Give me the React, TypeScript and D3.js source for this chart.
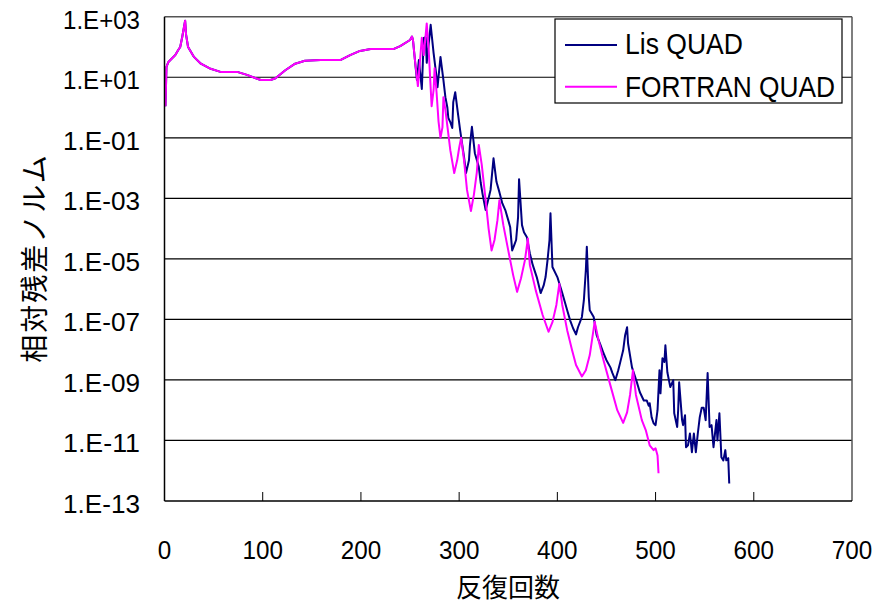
import React from "react";
import * as d3 from "d3";

const xTicks = [0, 100, 200, 300, 400, 500, 600, 700];
const yTicks = [1e3, 1e1, 1e-1, 1e-3, 1e-5, 1e-7, 1e-9, 1e-11, 1e-13];
const yTickLabels = ["1.E+03", "1.E+01", "1.E-01", "1.E-03", "1.E-05", "1.E-07", "1.E-09", "1.E-11", "1.E-13"];
const seriesNames = ["Lis QUAD", "FORTRAN QUAD"];
const xTitle = "反復回数";
const yTitle = "相対残差ノルム";

// common history (both runs identical until ~253 iterations)
const sharedIter = [1, 2, 4, 11, 14, 16, 18, 21, 22, 24, 30, 37, 47, 57, 74, 84, 93, 98, 108, 113, 123, 133, 143, 159, 179, 189, 199, 210, 233, 240, 250, 252, 253];
const sharedRes = [1.1, 22, 32, 54, 79, 100, 210, 740, 250, 100, 47, 28, 19, 15, 15, 12, 9.3, 8.1, 8.1, 9.3, 17, 28, 35, 37, 37, 54, 74, 85, 85, 107, 170, 220, 170];

const fortranIter = [255, 258, 259, 262, 264, 267, 269, 272, 274, 275, 277, 279, 281, 283, 284, 286, 291, 295, 298, 300, 302, 305, 308, 312, 315, 318, 320, 323, 327, 330, 333, 336, 339, 341, 345, 350, 355, 359, 363, 367, 370, 372, 378, 385, 391, 395, 399, 402, 405, 410, 415, 419, 425, 429, 433, 438, 442, 447, 454, 461, 467, 471, 474, 477, 480, 486, 490, 494, 498, 500, 502, 503];
const fortranRes = [37, 5.1, 12, 200, 54, 600, 79, 1.1, 3.8, 20, 3.2, 0.35, 0.10, 0.22, 2.2, 0.83, 0.039, 6.8e-3, 1.8e-2, 4.6e-2, 0.10, 1.8e-2, 1.9e-3, 3.8e-4, 1.3e-3, 7.2e-3, 5.8e-2, 1.3e-2, 8.7e-4, 1.0e-4, 1.9e-5, 4.2e-5, 1.9e-4, 8.7e-4, 1.3e-4, 1.9e-5, 2.9e-6, 8.1e-7, 2.3e-6, 9.1e-6, 4.7e-5, 6.2e-6, 9.1e-7, 1.4e-7, 3.9e-8, 8.1e-8, 3.0e-7, 1.5e-6, 3.0e-7, 4.4e-8, 9.5e-9, 3.1e-9, 1.3e-9, 2.1e-9, 6.6e-9, 8.3e-8, 2.0e-8, 4.5e-9, 6.6e-10, 1.0e-10, 3.8e-11, 8.5e-11, 3.2e-10, 2.1e-9, 3.2e-10, 4.7e-11, 2.2e-11, 6.9e-12, 4.8e-12, 5.5e-12, 3.2e-12, 8.3e-13];

const lisIter = [256, 257, 259, 262, 264, 266, 267, 271, 274, 277, 278, 281, 284, 286, 288, 289, 291, 293, 294, 296, 299, 301, 305, 307, 310, 311, 313, 316, 320, 322, 324, 327, 330, 332, 335, 338, 341, 344, 347, 350, 352, 354, 356, 358, 360, 361, 364, 366, 369, 372, 375, 379, 383, 386, 388, 390, 392, 393, 395, 400, 405, 410, 413, 416, 419, 421, 425, 427, 429, 430, 432, 433, 437, 440, 444, 447, 450, 454, 456, 459, 462, 464, 467, 469, 471, 472, 476, 481, 484, 488, 491, 493, 494, 496, 498, 500, 502, 504, 505, 507, 509, 510, 512, 515, 518, 519, 522, 523, 524, 527, 528, 530, 531, 533, 535, 537, 539, 541, 543, 545, 547, 549, 551, 553, 555, 557, 559, 562, 563, 565, 567, 569, 571, 572, 574, 575];
const lisRes = [17, 8.1, 37, 4.1, 200, 210, 30, 540, 63, 10, 4.7, 47, 8.1, 2.2, 1.0, 0.45, 0.33, 0.21, 1.5, 3.2, 0.56, 0.18, 2.3e-2, 6.8e-3, 1.8e-2, 5.8e-2, 0.23, 3.1e-2, 1.1e-2, 3.2e-3, 1.3e-3, 4.1e-4, 1.0e-3, 1.9e-3, 2.1e-2, 3.5e-3, 1.6e-3, 6.8e-4, 4.1e-4, 1.9e-4, 1.1e-4, 1.9e-5, 2.8e-5, 4.2e-5, 2.4e-4, 4.3e-3, 1.3e-4, 7.6e-5, 5.2e-5, 1.5e-5, 6.2e-6, 2.5e-6, 7.4e-7, 1.3e-6, 2.5e-6, 9.1e-6, 4.2e-5, 3.2e-4, 5.4e-6, 2.5e-6, 7.4e-7, 2.0e-7, 9.3e-8, 5.1e-8, 3.2e-8, 5.5e-8, 1.2e-7, 4.3e-7, 4.3e-6, 2.5e-5, 5.4e-7, 2.0e-7, 1.2e-7, 3.0e-8, 1.4e-8, 7.6e-9, 4.5e-9, 2.6e-9, 1.7e-9, 9.8e-10, 2.1e-9, 3.8e-9, 9.5e-9, 3.0e-8, 5.5e-8, 1.6e-8, 2.6e-9, 8.3e-10, 3.9e-10, 2.1e-10, 2.1e-10, 1.4e-10, 1.7e-10, 5.8e-11, 3.7e-11, 3.2e-11, 1.0e-10, 2.1e-9, 3.6e-10, 5.2e-9, 3.9e-9, 1.4e-8, 1.8e-9, 5.8e-10, 9.8e-10, 7.9e-11, 2.8e-11, 1.0e-10, 8.3e-10, 4.7e-11, 3.2e-11, 6.8e-11, 6.0e-12, 6.9e-12, 1.7e-11, 4.1e-12, 1.7e-11, 4.1e-12, 1.7e-11, 5.9e-11, 1.2e-10, 1.2e-10, 4.7e-11, 1.7e-9, 2.8e-11, 3.2e-11, 6.0e-12, 4.7e-11, 1.0e-11, 7.9e-11, 2.8e-12, 2.2e-12, 4.8e-12, 2.2e-12, 2.6e-12, 3.8e-13];

const W = 884;
const H = 607;
const left = 164.5;
const right = 852;
const top = 16.7;
const bottom = 501;

export default function App() {
  const x = d3.scaleLinear().domain([0, 700]).range([left, right]);
  const y = d3.scaleLog().domain([1e-13, 1e3]).range([bottom, top]);
  const line = d3
    .line<[number, number]>()
    .x((d) => x(d[0]))
    .y((d) => y(d[1]));

  const shared: [number, number][] = sharedIter.map((it, i) => [it, sharedRes[i]]);
  const lis = shared.concat(lisIter.map((it, i) => [it, lisRes[i]] as [number, number]));
  const fortran = shared.concat(fortranIter.map((it, i) => [it, fortranRes[i]] as [number, number]));

  const numFont = "'Liberation Sans', Arial, sans-serif";
  const cjkFont = "'Noto Sans CJK JP', sans-serif";

  return (
    <svg width={W} height={H} style={{ position: "absolute", left: 0, top: 0, background: "#fff" }}>
      <rect x={0} y={0} width={W} height={H} fill="#fff" />
      {/* gridlines */}
      {yTicks.slice(1, -1).map((t) => (
        <line key={t} x1={left} x2={right} y1={y(t)} y2={y(t)} stroke="#000" strokeWidth={1.2} />
      ))}
      {/* x ticks inside */}
      {xTicks.slice(1, -1).map((t) => (
        <line key={t} x1={x(t)} x2={x(t)} y1={bottom} y2={bottom - 9} stroke="#000" strokeWidth={1} />
      ))}
      {/* series */}
      <path d={line(lis) || ""} fill="none" stroke="#000080" strokeWidth={2} strokeLinejoin="round" />
      <path d={line(fortran) || ""} fill="none" stroke="#FF00FF" strokeWidth={2} strokeLinejoin="round" />
      {/* plot frame */}
      <line x1={left} x2={right} y1={top} y2={top} stroke="#555" strokeWidth={1.5} />
      <line x1={right} x2={right} y1={top} y2={bottom} stroke="#555" strokeWidth={1.5} />
      <line x1={left} x2={left} y1={top} y2={bottom} stroke="#000" strokeWidth={1.5} />
      <line x1={left} x2={right} y1={bottom} y2={bottom} stroke="#000" strokeWidth={1.5} />
      {/* y tick labels */}
      {yTicks.map((t, i) => (
        <text
          key={t}
          x={140}
          y={y(t) + 12}
          textAnchor="end"
          fontFamily={numFont}
          fontSize={25}
          textLength={77}
          lengthAdjust="spacingAndGlyphs"
          fill="#000"
        >
          {yTickLabels[i]}
        </text>
      ))}
      {/* x tick labels */}
      {xTicks.map((t) => {
        const s = String(t);
        return (
          <text
            key={t}
            x={x(t)}
            y={559}
            textAnchor="middle"
            fontFamily={numFont}
            fontSize={25}
            textLength={s.length * 13.5}
            lengthAdjust="spacingAndGlyphs"
            fill="#000"
          >
            {s}
          </text>
        );
      })}
      {/* axis titles */}
      <text x={508} y={597} textAnchor="middle" fontFamily={cjkFont} fontSize={26} fill="#000">
        {xTitle}
      </text>
      <text
        transform={`translate(45,258) rotate(-90)`}
        textAnchor="middle"
        fontFamily={cjkFont}
        fontSize={28}
        letterSpacing={2}
        fill="#000"
      >
        {yTitle}
      </text>
      {/* legend */}
      <rect x={555} y={19} width={287} height={84} fill="#fff" stroke="#000" strokeWidth={1.2} />
      <line x1={565} x2={617} y1={45} y2={45} stroke="#000080" strokeWidth={2} />
      <line x1={565} x2={617} y1={86.7} y2={86.7} stroke="#FF00FF" strokeWidth={2} />
      <text x={625} y={54} fontFamily={numFont} fontSize={29} textLength={118} lengthAdjust="spacingAndGlyphs" fill="#000">
        {seriesNames[0]}
      </text>
      <text x={625} y={96.5} fontFamily={numFont} fontSize={29} textLength={210} lengthAdjust="spacingAndGlyphs" fill="#000">
        {seriesNames[1]}
      </text>
    </svg>
  );
}
